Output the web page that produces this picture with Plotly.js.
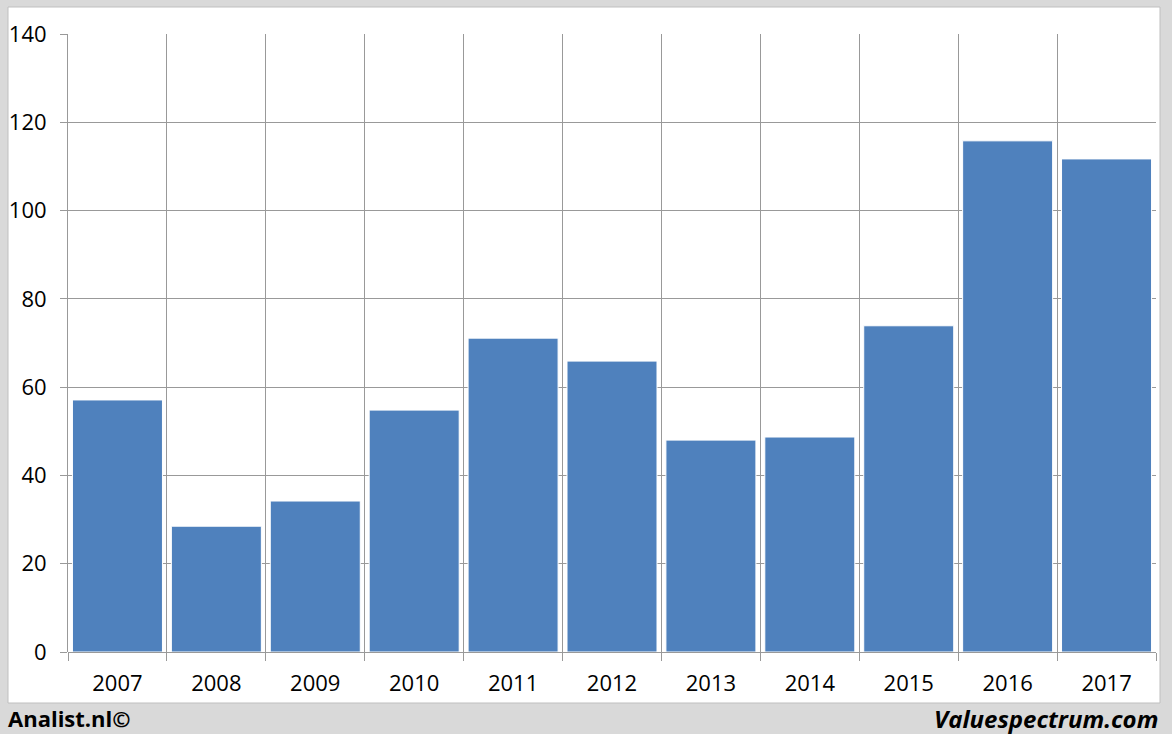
<!DOCTYPE html>
<html>
<head>
<meta charset="utf-8">
<script src="https://cdn.plot.ly/plotly-3.0.1.min.js"></script>
<style>
html,body{margin:0;padding:0;background:#d9d9d9;}
#chart{width:1172px;height:734px;}
</style>
</head>
<body>
<div id="chart"></div>
<script>
const years = ["2007","2008","2009","2010","2011","2012","2013","2014","2015","2016","2017"];
const values = [57.1, 28.5, 34.2, 54.8, 71.1, 65.9, 48.0, 48.7, 73.9, 115.8, 111.7];
const yTicks = [0, 20, 40, 60, 80, 100, 120, 140];
const leftCredit = "Analist.nl©";
const rightCredit = "Valuespectrum.com";

const gridColor = "#999999";
const fontFam = "Open Sans, Liberation Sans, sans-serif";

const trace = {
  type: "bar",
  x: years,
  y: values,
  marker: {color: "#4f81bd", line: {color: "#ffffff", width: 1}},
  hoverinfo: "x+y"
};

const layout = {
  width: 1172,
  height: 734,
  margin: {l: 68, r: 16, t: 34, b: 82, pad: 0},
  paper_bgcolor: "#d9d9d9",
  plot_bgcolor: "rgba(0,0,0,0)",
  bargap: 0.09,
  showlegend: false,
  font: {family: fontFam, size: 22, color: "#000000"},
  xaxis: {
    type: "category",
    tickson: "boundaries",
    showgrid: true,
    gridcolor: gridColor,
    gridwidth: 1,
    ticks: "outside",
    ticklen: 8,
    tickcolor: gridColor,
    tickwidth: 1,
    ticklabelstandoff: 16,
    tickfont: {family: fontFam, size: 22, color: "#000"},
    showline: false,
    zeroline: false,
    fixedrange: true
  },
  yaxis: {
    range: [0, 140],
    tickvals: yTicks,
    ticktext: yTicks.map(String),
    showgrid: true,
    gridcolor: gridColor,
    gridwidth: 1,
    zeroline: true,
    zerolinecolor: gridColor,
    zerolinewidth: 1,
    ticks: "outside",
    ticklen: 7,
    tickcolor: gridColor,
    tickwidth: 1,
    ticklabelstandoff: 9,
    tickfont: {family: fontFam, size: 22, color: "#000"},
    showline: true,
    linecolor: gridColor,
    linewidth: 1,
    fixedrange: true
  },
  shapes: [
    {
      type: "rect", xref: "paper", yref: "paper", layer: "below",
      x0: (8 - 68) / 1088, x1: (1160 - 68) / 1088,
      y0: (652 - 703) / 618, y1: (652 - 7) / 618,
      fillcolor: "#ffffff",
      line: {color: "#bfbfbf", width: 1}
    }
  ],
  annotations: [
    {
      xref: "paper", yref: "paper",
      x: (6 - 68) / 1088, y: (652 - 718) / 618,
      xanchor: "left", yanchor: "middle",
      text: "<b>" + leftCredit + "</b>",
      showarrow: false,
      font: {family: fontFam, size: 22, color: "#000"}
    },
    {
      xref: "paper", yref: "paper",
      x: (1160 - 68) / 1088, y: (652 - 718) / 618,
      xanchor: "right", yanchor: "middle",
      text: "<b><i>" + rightCredit + "</i></b>",
      showarrow: false,
      font: {family: fontFam, size: 24, color: "#000"}
    }
  ]
};

Plotly.newPlot("chart", [trace], layout, {displayModeBar: false, staticPlot: true});
</script>
</body>
</html>
